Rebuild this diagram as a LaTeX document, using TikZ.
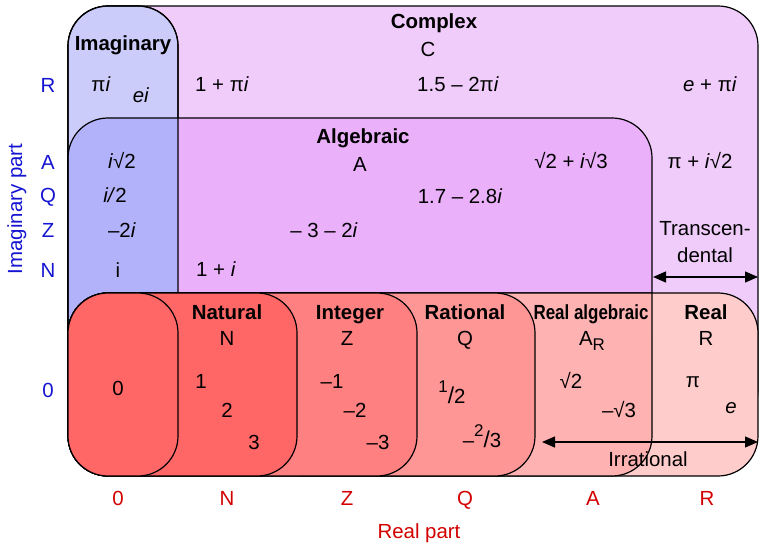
\documentclass[tikz,border=0pt]{standalone}
\usepackage{fontspec}
\setmainfont{Liberation Sans}
\usepackage{xcolor}
\usepackage{tikz}
\usetikzlibrary{arrows.meta}
\definecolor{cplx}{RGB}{240,204,250}
\definecolor{alg}{RGB}{234,176,250}
\definecolor{imag}{RGB}{204,204,250}
\definecolor{imalg}{RGB}{178,178,250}
\definecolor{rreal}{RGB}{255,204,204}
\definecolor{ralg}{RGB}{255,178,178}
\definecolor{rrat}{RGB}{255,150,150}
\definecolor{rint}{RGB}{255,128,128}
\definecolor{rnat}{RGB}{255,102,102}
\definecolor{axblue}{RGB}{20,20,210}
\definecolor{axred}{RGB}{210,0,0}
\newcommand{\setsize}{\fontsize{20.5}{24}\selectfont}

\begin{document}
\begin{tikzpicture}[x=1bp, y=-1bp,
  font=\setsize,
  set/.style={draw, line width=1.2bp, rounded corners=40bp},
  t/.style={anchor=base, inner sep=0pt, font=\setsize},
  hd/.style={t, font=\setsize\bfseries},
  yl/.style={t, text=axblue},
  xl/.style={t, text=axred},
  dim/.style={line width=1.2bp, {Triangle[length=13bp,width=11bp]}-{Triangle[length=13bp,width=11bp]}}]
\useasboundingbox (0,0) rectangle (760,543);
\filldraw[set, fill=cplx] (68,6) rectangle (758,430);
\filldraw[set, fill=imag] (68,6) rectangle (178,430);
\fill[alg, rounded corners=40bp] (68,118) rectangle (652,430);
\begin{scope}
  \clip[rounded corners=40bp] (68,118) rectangle (652,430);
  \fill[imalg, rounded corners=40bp] (68,6) rectangle (178,430);
\end{scope}
\draw[set] (68,118) rectangle (652,430);
\draw[set] (68,6) rectangle (178,430);
\filldraw[set, fill=rreal] (68,293) rectangle (758,476);
\fill[ralg, rounded corners=40bp] (68,293) rectangle (652,476);
\fill[ralg] (600,293) rectangle (652,345);
\draw[set] (68,384) |- (652,293);
\draw[set] (652,293) |- (300,476);
\filldraw[set, fill=rrat] (68,293) rectangle (535,476);
\filldraw[set, fill=rint] (68,293) rectangle (417,476);
\filldraw[set, fill=rnat] (68,293) rectangle (297,476);
\filldraw[set, fill=rnat] (68,293) rectangle (178,476);
\coordinate (trL) at (653,277);
\coordinate (trR) at (758,277);
\draw[dim] (trL) -- (trR);
\coordinate (irL) at (542,442);
\coordinate (irR) at (758,442);
\draw[dim] (irL) -- (irR);
\node[hd] (complex) at (434,29) {Complex};
\node[t] (setC) at (428,57) {C};
\node[hd] (imaginary) at (123,51) {Imaginary};
\node[t] (pii) at (101,92) {π\textit{i}};
\node[t] (ei) at (141,103) {\textit{ei}};
\node[t] (onepii) at (222,92) {1 + π\textit{i}};
\node[t] (cfive) at (458,92) {1.5 – 2π\textit{i}};
\node[t] (epii) at (710,92) {\textit{e} + π\textit{i}};
\node[hd] (algebraic) at (363,144) {Algebraic};
\node[t] (setA) at (360,172) {A};
\node[t] (isq) at (122,169) {\textit{i}√2};
\node[t] (sqisq) at (571,169) {√2 + \textit{i}√3};
\node[t] (piisq) at (700,169) {π + \textit{i}√2};
\node[t] (ihalf) at (115,203) {\textit{i/}2};
\node[t] (cseven) at (460,204) {1.7 – 2.8\textit{i}};
\node[t] (mtwoi) at (122,238) {–2\textit{i}};
\node[t] (mthree) at (324,238) {– 3 – 2\textit{i}};
\node[t] (transa) at (705,236) {Transcen-};
\node[t] (transb) at (705,263) {dental};
\node[t] (iup) at (118,278) {i};
\node[t] (onei) at (216,277) {1 + \textit{i}};
\node[hd] (natural) at (227,319) {Natural};
\node[hd] (integer) at (350,319) {Integer};
\node[hd] (rational) at (465,319) {Rational};
\node[hd] (realalg) at (591,319) {\scalebox{0.83}[1]{Real algebraic}};
\node[hd] (real) at (706,319) {Real};
\node[t] (setN) at (227,345) {N};
\node[t] (setZ) at (347,345) {Z};
\node[t] (setQ) at (465,345) {Q};
\node[t] (setAR) at (592,345) {A\raisebox{-5bp}{\fontsize{17}{17}\selectfont R}};
\node[t] (setR) at (706,345) {R};
\node[t] (zero) at (118,395) {0};
\node[t] (one) at (201,388) {1};
\node[t] (two) at (227,417) {2};
\node[t] (three) at (254,449) {3};
\node[t] (mone) at (332,388) {–1};
\node[t] (mtwo) at (355,417) {–2};
\node[t] (mthr) at (378,449) {–3};
\node[t] (half) at (452,403) {\raisebox{11bp}{\fontsize{17}{17}\selectfont 1}{\fontsize{23}{24}\selectfont /}2};
\node[t] (mtwothirds) at (482,447) {–\raisebox{11bp}{\fontsize{17}{17}\selectfont 2}{\fontsize{23}{24}\selectfont /}3};
\node[t] (sqtwo) at (571,388) {√2};
\node[t] (msqthree) at (619,417) {–√3};
\node[t] (pi) at (693,387) {π};
\node[t] (e) at (731,413) {\textit{e}};
\node[t] (irrational) at (648,466) {Irrational};
\foreach \s/\y in {R/93, A/170, Q/203, Z/238, N/278, 0/397}
  \node[yl] (y\s) at (48,\y) {\s};
\foreach \s/\x in {0/118, N/227, Z/347, Q/465, A/593, R/707}
  \node[xl] (x\s) at (\x,505) {\s};
\node[yl, rotate=90] (imagpart) at (22,209) {Imaginary part};
\node[xl] (realpart) at (419,538) {Real part};
\end{tikzpicture}
\end{document}
